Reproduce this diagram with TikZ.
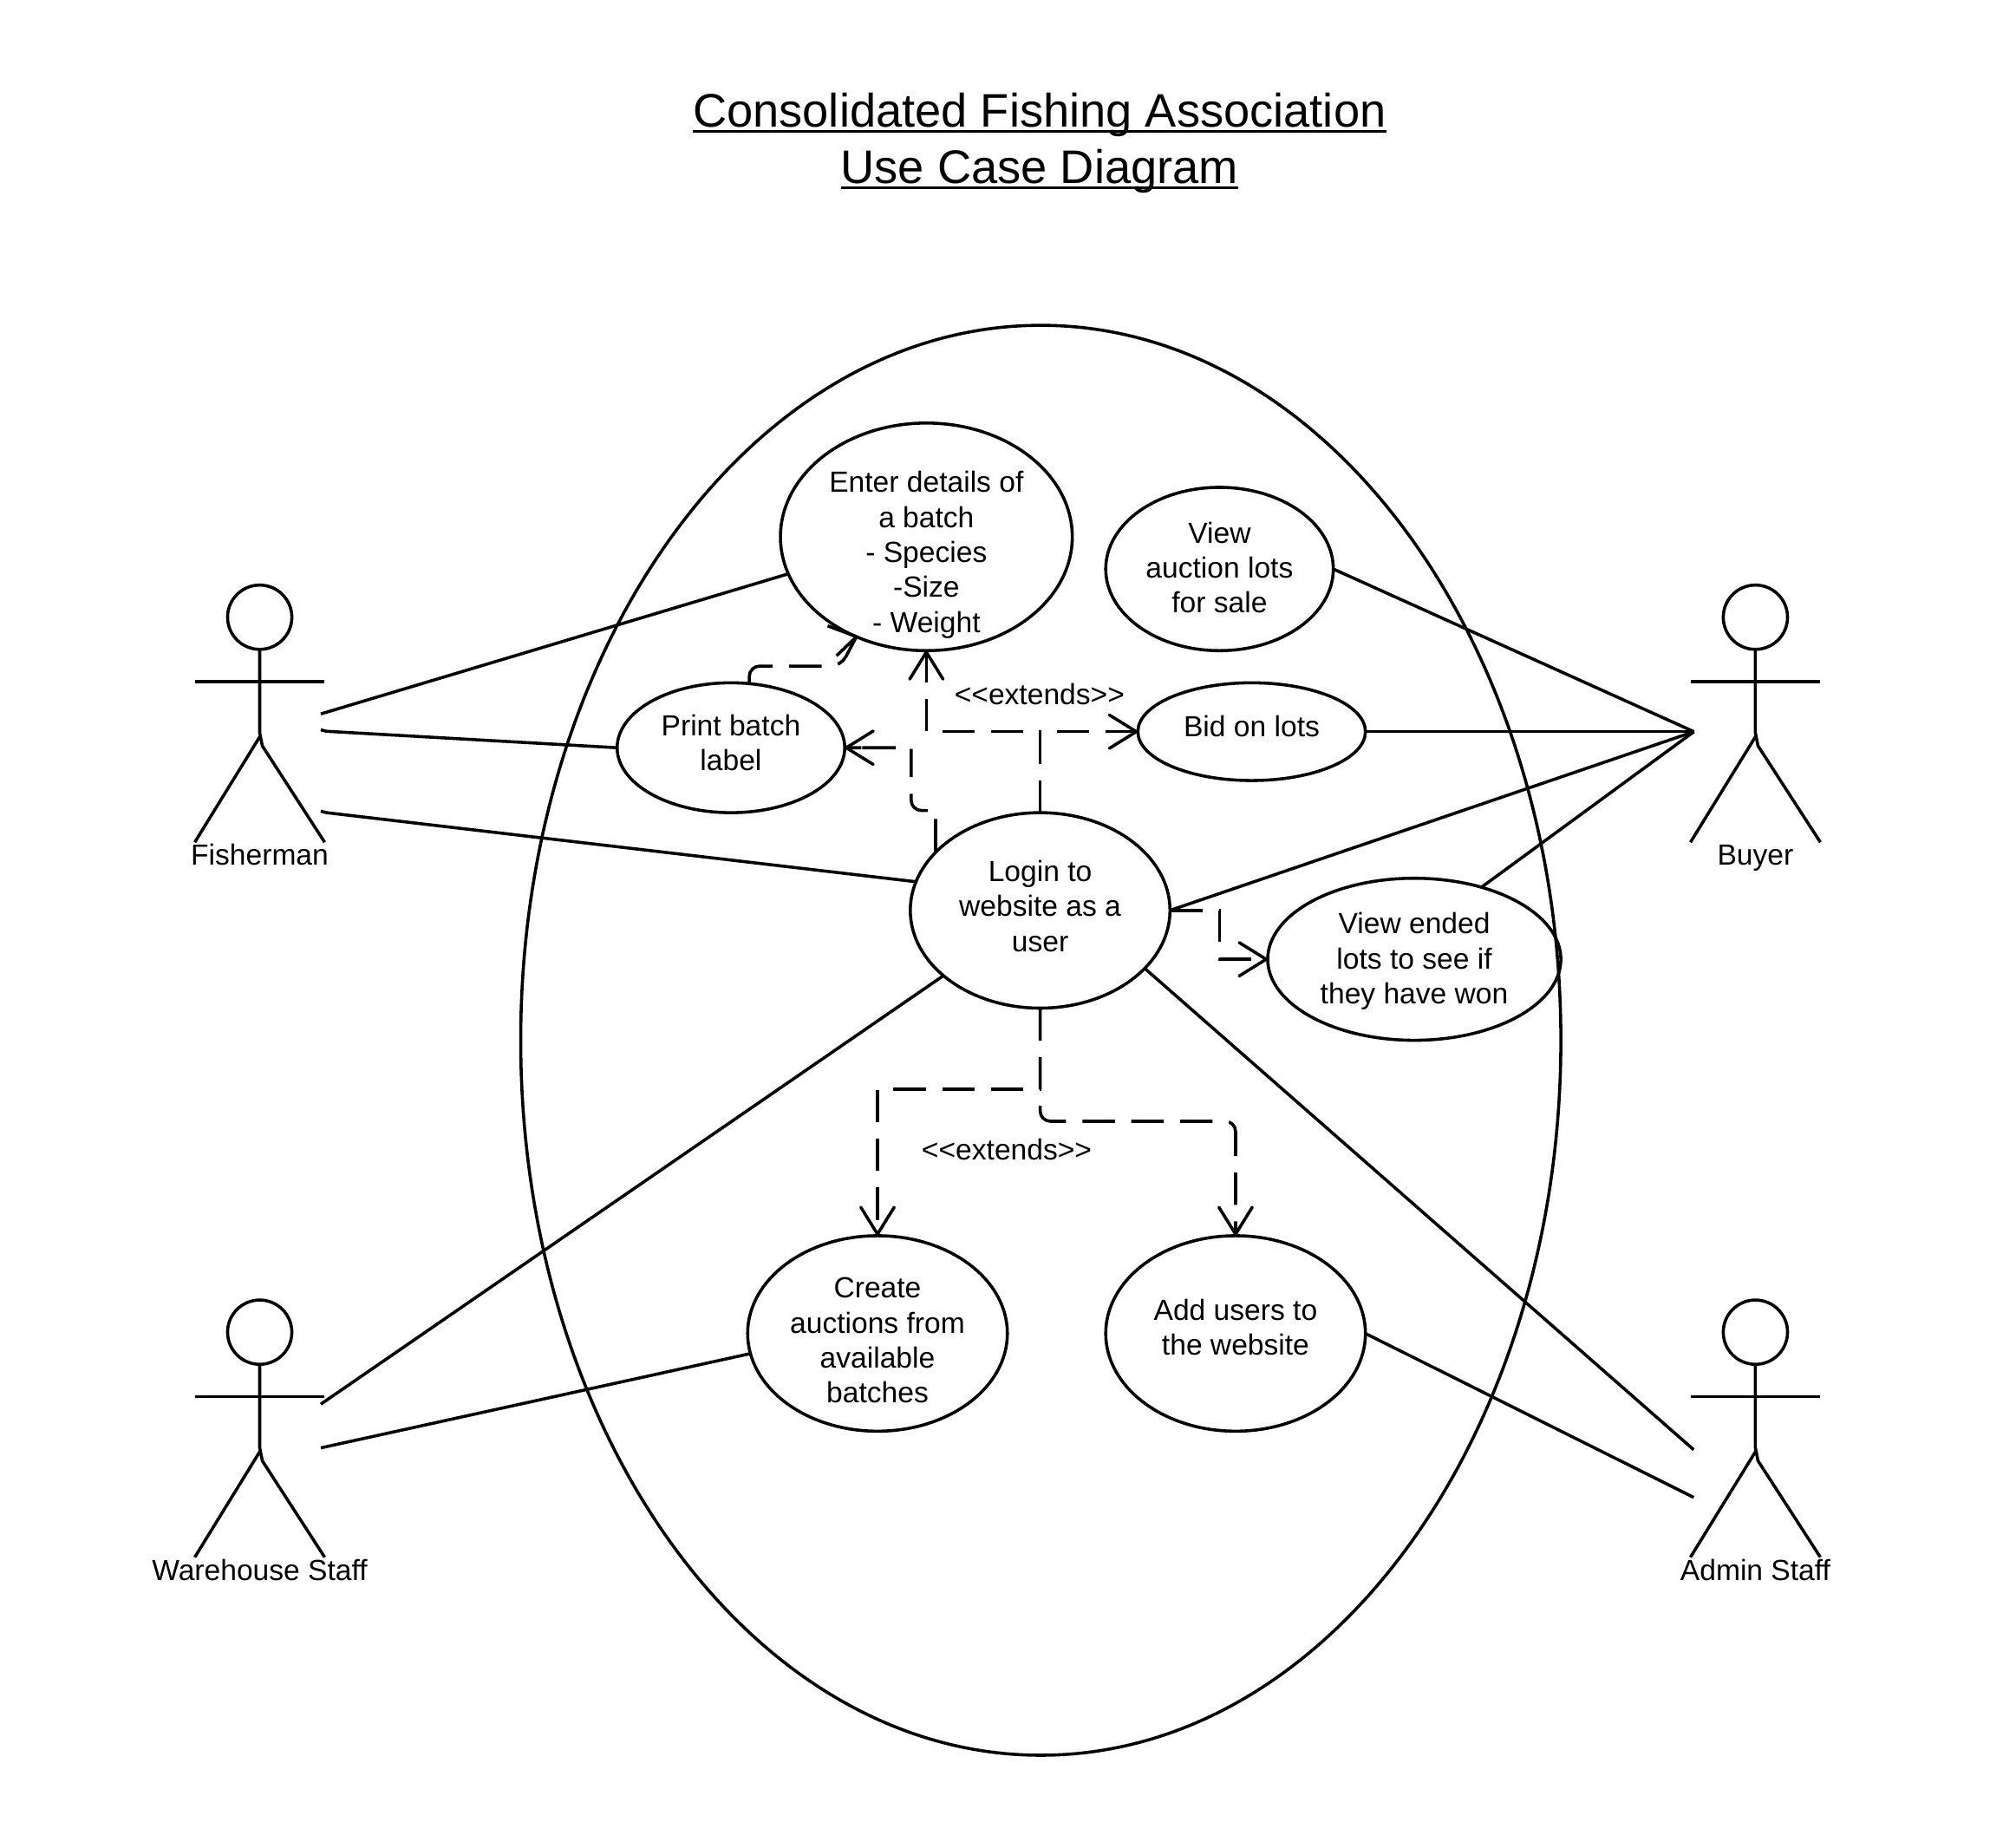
\documentclass[tikz,border=0pt]{standalone}
\usepackage{fontspec}
\setmainfont{Liberation Sans}
\usetikzlibrary{arrows.meta,shapes.geometric,calc}
\newsavebox{\ttlbox}
\newcommand{\ttlul}[1]{\sbox{\ttlbox}{#1}\rlap{\rule[-2.2pt]{\wd\ttlbox}{1.25pt}}\usebox{\ttlbox}}
\newcommand{\uct}[2]{\makebox[0pt]{\raisebox{\dimexpr#1-1.1pt\relax}[0pt][0pt]{\begin{tabular}{@{}c@{}}#2\end{tabular}}}}
\tikzset{
  every path/.style={line width=1.2pt,line join=miter},
  uc/.style={ellipse,draw,inner sep=0pt,outer sep=0pt,font=\fontsize{11.33}{13.6}\selectfont},
  lbl/.style={inner sep=0pt,outer sep=0pt,align=center,font=\fontsize{11.33}{13.6}\selectfont},
  head/.style={circle,draw,inner sep=0pt,outer sep=0pt,minimum size=25pt},
  dep/.style={dash pattern=on 12.6pt off 6.4pt,-{Straight Barb[length=10.5pt,width=13pt,round=false]}},
}
\newcommand{\actor}[4]{%
  \node[head] (#1head) at (#2,#3) {};
  \begin{scope}[shift={(#2,#3)}]
    \coordinate (#1armL) at (-50.5,50);
    \coordinate (#1armR) at (50.5,50);
    \coordinate (#1hip) at (0,90);
    \coordinate (#1hipB) at (2,100);
    \coordinate (#1legL) at (-50.5,175);
    \coordinate (#1legR) at (50.5,175);
    \coordinate (#1fork) at (0,93);
    \node[lbl,anchor=base] (#1name) at (0,192.8) {#4};
  \end{scope}
  \draw (#1armL) -- (#1armR);
  \draw (#1head.south) -- (#1hip) -- (#1hipB) -- (#1legR);
  \draw (#1fork) -- (#1legL);
}
\begin{document}
\begin{tikzpicture}[x=0.5pt,y=-0.5pt]
\useasboundingbox (0,0) rectangle (1568,1416.3);

\node[inner sep=0pt,outer sep=0pt,align=center,font=\fontsize{18.3}{22}\selectfont] (title) at (808.5,111.5) {\ttlul{Consolidated Fishing Association}\\\ttlul{Use Case Diagram}};

\node[ellipse,draw,inner sep=0pt,outer sep=0pt,minimum width=404.5pt,minimum height=556pt] (system) at (809.5,809) {};

\node[uc,minimum width=113.5pt,minimum height=88.5pt] (enter) at (720.5,417.5) {\uct{-8.8pt}{Enter details of\\a batch\\- Species\\-Size\\- Weight}};
\node[uc,minimum width=88.5pt,minimum height=63.5pt] (auction) at (948.5,442.5) {\uct{-2.4pt}{View\\auction lots\\for sale}};
\node[uc,minimum width=88.5pt,minimum height=38pt] (bid) at (973.5,569) {\uct{-0.8pt}{Bid on lots}};
\node[uc,minimum width=88.5pt,minimum height=50.5pt] (print) at (568.5,581.5) {\uct{-1.05pt}{Print batch\\label}};
\node[uc,minimum width=101pt,minimum height=76pt] (login) at (809,708) {\uct{-1.3pt}{Login to\\website as a\\user}};
\node[uc,minimum width=114pt,minimum height=63pt] (ended) at (1100,746) {\uct{-2.65pt}{View ended\\lots to see if\\they have won}};
\node[uc,minimum width=101pt,minimum height=76pt] (create) at (682.5,1037) {\uct{-5.55pt}{Create\\auctions from\\available\\batches}};
\node[uc,minimum width=101pt,minimum height=76pt] (add) at (961,1037) {\uct{-0.55pt}{Add users to\\the website}};

\node[lbl] (ext1) at (808.5,540) {<{}<extends>{}>};
\node[lbl] (ext2) at (783,894) {<{}<extends>{}>};

\actor{fish}{202}{480}{Fisherman}
\actor{buyer}{1365.3}{480}{Buyer}
\actor{ware}{202}{1036}{Warehouse Staff}
\actor{admin}{1365.3}{1036}{Admin Staff}

\coordinate (fa) at (249.5,555.2);
\coordinate (fb) at (249.5,567.6);
\coordinate (fbb) at (254,568.7);
\coordinate (fc) at (249.5,630.8);
\coordinate (fcb) at (254,632);
\coordinate (wa) at (249.5,1092);
\coordinate (wb) at (249.5,1126);
\coordinate (bp) at (1317.5,569);
\coordinate (aa) at (1317.3,1127.4);
\coordinate (ab) at (1317.3,1164.5);

\draw (fa) -- (enter.195.3);
\draw (fb) -- (fbb) -- (print.west);
\draw (fc) -- (fcb) -- (login.167.1);
\draw (wa) -- (login.214.6);
\draw (wb) -- (create.189.8);
\draw (auction.east) -- (bp);
\draw (bid.east) -- (bp);
\draw (login.east) -- (bp);
\draw (ended.47.6) -- (bp);
\draw (login.-29.1) -- (aa);
\draw (add.east) -- (ab);

\draw[dep] (login.north) -- (login.north|-bid.west) -- (bid.west);
\draw[dep] (login.north) -- (login.north|-bid.west) -- (enter.south|-bid.west) -- (enter.south);
\coordinate (pc1) at ($(login.151.6)+(0,-32.6)$);
\coordinate (pc2) at ($(pc1)+(-19,0)$);
\coordinate (pc3) at (pc2|-print.east);
\draw[dep,solid] (login.151.6) -- ($(pc1)+(0,6.5)$)
  ($(pc2)+(13,0)$) [rounded corners=4pt] -- (pc2) -- ($(pc2)+(0,-13)$) [sharp corners]
  ($(pc2)+(0,-26)$) -- ($(pc3)+(0,1)$)
  ($(pc3)+(-12,0)$) -- ($(pc3)+(-38,0)$)
  ($(print.east)+(13,0)$) -- (print.east);
\draw[dep] (login.east) -- ++(38.5,0) |- (ended.west);
\draw[dep] (login.south) -- ++(0,63) -| (create.north);
\coordinate (ac1) at ($(login.south)+(0,88)$);
\coordinate (ac2) at (add.north|-ac1);
\draw[dep,dash pattern=on 12.6pt off 6.4pt on 12.6pt off 6.4pt on 14.3pt off 6.4pt on 12.6pt off 6.4pt on 12.6pt off 6.4pt on 12.6pt off 6.4pt on 14.3pt off 6.4pt on 12.6pt off 6.4pt on 30pt off 1pt,rounded corners=4pt]
  (login.south) -- (ac1) -- (ac2) -- (add.north);

\coordinate (pbA) at (654,518);
\coordinate (pbB) at (583,518);
\coordinate (pbC) at (643.7,486.7);
\coordinate (pbD) at (650.6,510);
\draw[dash pattern=on 14.2pt off 6.4pt on 12.6pt off 6.4pt on 30pt off 1pt,rounded corners=4pt] (print.74) -- (print.74|-pbB) -- (pbA) -- (enter.235.7);
\draw (pbC) -- (enter.235.7) -- (pbD);
\end{tikzpicture}
\end{document}
